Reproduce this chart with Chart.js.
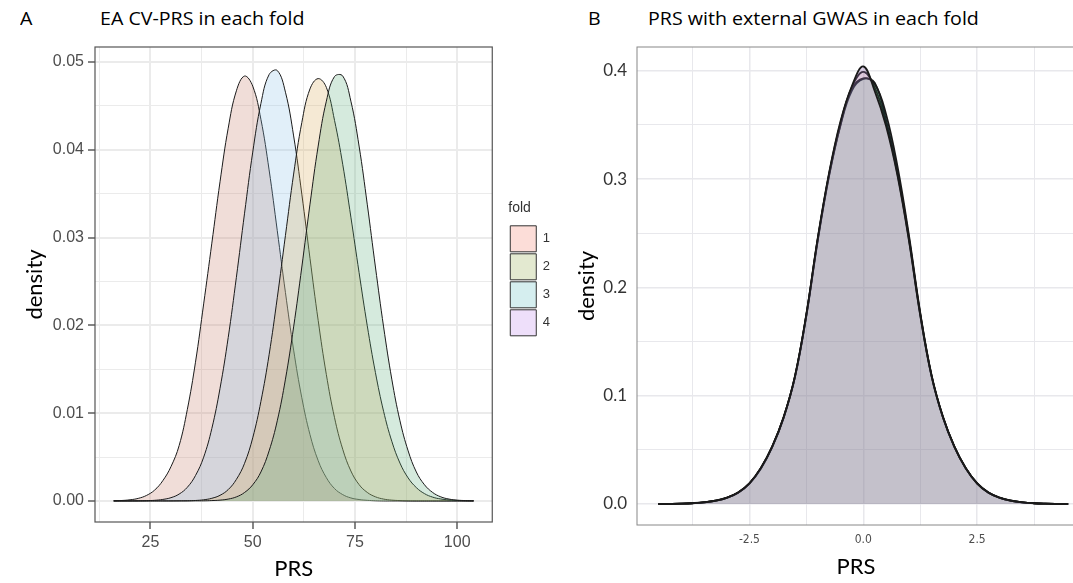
<!DOCTYPE html>
<html>
<head>
<meta charset="utf-8">
<script src="https://cdn.jsdelivr.net/npm/chart.js@4.4.0/dist/chart.umd.min.js"></script>
<style>
  html, body { margin: 0; padding: 0; background: #fff; overflow: hidden; }
  body { width: 1073px; height: 583px; position: relative; }
  canvas { position: absolute; top: 0; }
  #graficaA { left: 0; }
  #graficaB { left: 565px; }
  .tag { position: absolute; top: 5px; font-family: 'Open Sans', sans-serif; font-size: 18px; color: #000;
         line-height: 26px; white-space: nowrap; transform: scaleX(1.09); transform-origin: left center; }
</style>
</head>
<body>
<div class="tag" style="left:20px">A</div>
<div class="tag" style="left:100px">EA CV-PRS in each fold</div>
<div class="tag" style="left:588px">B</div>
<div class="tag" style="left:648px">PRS with external GWAS in each fold</div>
<canvas id="graficaA" width="590" height="583"></canvas>
<canvas id="graficaB" width="510" height="583"></canvas>
<script>
// ======================
// DATOS
// ======================
const foldNames = ['1', '2', '3', '4'];

// panel A: densidad del CV-PRS por fold
const prsGridA = [16, 18, 20, 22, 24, 26, 28, 30, 32, 34, 36, 38, 40, 42, 44, 46, 48, 50, 52, 54, 56, 58, 60,
                  62, 64, 66, 68, 70, 72, 74, 76, 78, 80, 82, 84, 86, 88, 90, 92, 94, 96, 98, 100, 102, 104];
const fold1A = [0.00002, 0.00005, 0.00013, 0.00029, 0.00062, 0.00123, 0.00230, 0.00390, 0.00630, 0.01040,
                0.01580, 0.02244, 0.02936, 0.03635, 0.04245, 0.04671, 0.04839, 0.04724, 0.04346, 0.03770,
                0.03078, 0.02372, 0.01718, 0.01175, 0.00755, 0.00459, 0.00265, 0.00141, 0.00072, 0.00034,
                0.00016, 0.00007, 0.00002, 0, 0, 0, 0, 0, 0, 0, 0, 0, 0, 0, 0];
const fold2A = [0, 0, 0, 0.00001, 0.00003, 0.00007, 0.00017, 0.00037, 0.00078, 0.00155, 0.00289, 0.00498,
                0.00825, 0.01282, 0.01860, 0.02547, 0.03277, 0.03973, 0.04527, 0.04856, 0.04902, 0.04655,
                0.04157, 0.03494, 0.02763, 0.02056, 0.01439, 0.00948, 0.00589, 0.00341, 0.00186, 0.00097,
                0.00047, 0.00021, 0.00009, 0.00004, 0.00001, 0, 0, 0, 0, 0, 0, 0, 0];
const fold3A = [0, 0, 0, 0, 0, 0, 0, 0, 0.00001, 0.00002, 0.00005, 0.00013, 0.00030, 0.00064, 0.00129,
                0.00245, 0.00428, 0.00719, 0.01134, 0.01665, 0.02314, 0.03025, 0.03723, 0.04310, 0.04693,
                0.04810, 0.04710, 0.04334, 0.03834, 0.03232, 0.02602, 0.01996, 0.01462, 0.01020, 0.00680,
                0.00431, 0.00262, 0.00152, 0.00083, 0.00043, 0.00022, 0.00011, 0.00005, 0.00002, 0.00001];
const fold4A = [0, 0, 0, 0, 0, 0, 0, 0, 0, 0, 0.00001, 0.00001, 0.00004, 0.00009, 0.00021, 0.00046, 0.00096,
                0.00184, 0.00330, 0.00570, 0.00913, 0.01387, 0.01982, 0.02664, 0.03380, 0.04042, 0.04553,
                0.04834, 0.04840, 0.04553, 0.04042, 0.03380, 0.02664, 0.01982, 0.01387, 0.00913, 0.00570,
                0.00330, 0.00184, 0.00096, 0.00046, 0.00021, 0.00009, 0.00004, 0.00001];
const xTicksA = [25, 50, 75, 100];
const yTicksA = [0, 0.01, 0.02, 0.03, 0.04, 0.05];

// panel B: PRS con GWAS externo
const prsGridB = [-4.5, -4.25, -4, -3.75, -3.5, -3.25, -3, -2.75, -2.5, -2.25, -2, -1.75, -1.5, -1.25, -1,
                  -0.75, -0.5, -0.25, 0, 0.25, 0.5, 0.75, 1, 1.25, 1.5, 1.75, 2, 2.25, 2.5, 2.75, 3, 3.25,
                  3.5, 3.75, 4, 4.25, 4.5];
const fold1B = [0, 0.0001, 0.0003, 0.0007, 0.0015, 0.0030, 0.0057, 0.0105, 0.0190, 0.0330, 0.0530, 0.0800,
                0.1180, 0.1750, 0.2450, 0.3050, 0.3520, 0.3850, 0.3990, 0.3850, 0.3520, 0.3050, 0.2450,
                0.1750, 0.1180, 0.0800, 0.0530, 0.0330, 0.0190, 0.0105, 0.0057, 0.0030, 0.0015, 0.0007,
                0.0003, 0.0001, 0];
const fold2B = [0, 0.0001, 0.0003, 0.0008, 0.0016, 0.0031, 0.0058, 0.0104, 0.0188, 0.0325, 0.0524, 0.0795,
                0.1172, 0.1738, 0.2433, 0.3032, 0.3498, 0.3818, 0.3925, 0.3890, 0.3545, 0.3070, 0.2465,
                0.1760, 0.1185, 0.0802, 0.0532, 0.0333, 0.0192, 0.0106, 0.0058, 0.0030, 0.0015, 0.0007,
                0.0003, 0.0001, 0];
const fold3B = [0, 0.0001, 0.0003, 0.0007, 0.0014, 0.0029, 0.0056, 0.0104, 0.0191, 0.0332, 0.0532, 0.0800,
                0.1176, 0.1745, 0.2440, 0.3040, 0.3505, 0.3835, 0.3930, 0.3880, 0.3600, 0.3120, 0.2490,
                0.1770, 0.1190, 0.0805, 0.0530, 0.0330, 0.0190, 0.0104, 0.0057, 0.0030, 0.0015, 0.0007,
                0.0003, 0.0001, 0];
const fold4B = [0, 0.0001, 0.0003, 0.0007, 0.0015, 0.0030, 0.0057, 0.0106, 0.0191, 0.0331, 0.0529, 0.0798,
                0.1180, 0.1752, 0.2455, 0.3060, 0.3535, 0.3860, 0.4040, 0.3815, 0.3490, 0.3035, 0.2440,
                0.1745, 0.1178, 0.0798, 0.0528, 0.0329, 0.0189, 0.0104, 0.0056, 0.0029, 0.0015, 0.0007,
                0.0003, 0.0001, 0];
const xTicksB = [-2.5, 0, 2.5];
const yTicksB = [0, 0.1, 0.2, 0.3, 0.4];

// colores
const fillsA = ['rgba(195,119,99,0.25)', 'rgba(135,190,230,0.25)', 'rgba(215,167,83,0.25)', 'rgba(87,171,119,0.25)'];
const fillsB = ['rgba(248,118,109,0.1)', 'rgba(124,174,0,0.1)', 'rgba(0,191,196,0.1)', 'rgba(150,110,180,0.3)'];
const legendFills = ['#FCDDD8', '#E3E9D0', '#D5EEEF', '#EEDFFA'];

const isTick = (list, v) => list.some(t => Math.abs(t - v) < 1e-9);

function areaSet(i, xs, ys, fill, width) {
    return {
        label: foldNames[i],
        data: xs.map((x, k) => ({ x: x, y: ys[k] })),
        backgroundColor: fill,
        borderColor: '#1a1a1a',
        borderWidth: width,
        fill: 'origin',
        pointRadius: 0,
        tension: 0.4,
        order: 3 - i   // fold 4 queda arriba
    };
}

// borde del panel (theme_bw)
const panelBorder = {
    id: 'panelBorder',
    afterDatasetsDraw(chart, args, opts) {
        const { ctx, chartArea: a } = chart;
        ctx.save();
        ctx.strokeStyle = opts.color;
        ctx.lineWidth = opts.width;
        ctx.strokeRect(a.left, a.top, a.right - a.left, a.bottom - a.top);
        ctx.restore();
    }
};

function gridOpts(majors, majorW, minorW, color, tickLen, tickColor) {
    return {
        color: color,
        lineWidth: c => (c.tick && isTick(majors, c.tick.value)) ? majorW : minorW,
        drawTicks: tickLen > 0,
        tickLength: tickLen,
        tickWidth: 1.2,
        tickColor: c => (c.tick && isTick(majors, c.tick.value)) ? tickColor : 'rgba(0,0,0,0)'
    };
}

const titleFont = { family: 'Lato, sans-serif', size: 22 };
const sansA = "'Liberation Sans', Arial, sans-serif";

// ======================
// PANEL A
// ======================
new Chart(document.getElementById('graficaA'), {
    type: 'line',
    data: {
        datasets: [
            areaSet(0, prsGridA, fold1A, fillsA[0], 1),
            areaSet(1, prsGridA, fold2A, fillsA[1], 1),
            areaSet(2, prsGridA, fold3A, fillsA[2], 1),
            areaSet(3, prsGridA, fold4A, fillsA[3], 1)
        ]
    },
    plugins: [panelBorder],
    options: {
        responsive: false,
        animation: false,
        layout: { padding: { top: 47, right: 30, bottom: 0, left: 0 } },
        plugins: {
            panelBorder: { color: '#555', width: 1.2 },
            tooltip: { enabled: false },
            legend: {
                position: 'right',
                align: 'start',
                title: {
                    display: true, text: 'fold', color: '#333', position: 'start',
                    font: { family: sansA, size: 14 },
                    padding: { top: 154, bottom: 6 }
                },
                labels: {
                    boxWidth: 26, boxHeight: 26, padding: 2, color: '#333',
                    font: { family: sansA, size: 13 },
                    generateLabels: () => foldNames.map((t, i) => ({
                        text: t, fillStyle: legendFills[i], strokeStyle: '#333',
                        lineWidth: 1, hidden: false, datasetIndex: i
                    }))
                }
            }
        },
        scales: {
            x: {
                type: 'linear', min: 11.43, max: 108.57,
                afterFit: s => { s.height = 61; },
                ticks: {
                    stepSize: 12.5, includeBounds: false, autoSkip: false, maxRotation: 0, padding: 4,
                    color: '#4D4D4D', font: { family: sansA, size: 16 },
                    callback: v => isTick(xTicksA, v) ? String(v) : ''
                },
                grid: gridOpts(xTicksA, 2, 1, '#EBEBEB', 7, '#333'),
                border: { display: false },
                title: { display: true, text: 'PRS', color: '#000', font: titleFont, padding: { top: 0, bottom: 1 } }
            },
            y: {
                type: 'linear', min: -0.0024, max: 0.0517,
                afterFit: s => { s.width = 95; },
                ticks: {
                    stepSize: 0.005, includeBounds: false, autoSkip: false, padding: 4,
                    color: '#4D4D4D', font: { family: sansA, size: 16 },
                    callback: v => isTick(yTicksA, v) ? v.toFixed(2) : ''
                },
                grid: gridOpts(yTicksA, 2, 1, '#EBEBEB', 7, '#333'),
                border: { display: false },
                title: { display: true, text: 'density', color: '#000', font: titleFont, padding: { top: 22, bottom: 0 } }
            },
            yR: {
                position: 'right', display: true,
                afterFit: s => { s.width = 16; },
                ticks: { display: false },
                grid: { display: false, drawTicks: false },
                border: { display: false }
            }
        }
    }
});

// ======================
// PANEL B
// ======================
new Chart(document.getElementById('graficaB'), {
    type: 'line',
    data: {
        datasets: [
            areaSet(0, prsGridB, fold1B, fillsB[0], 1.8),
            areaSet(1, prsGridB, fold2B, fillsB[1], 1.8),
            areaSet(2, prsGridB, fold3B, fillsB[2], 1.8),
            areaSet(3, prsGridB, fold4B, fillsB[3], 1.8)
        ]
    },
    plugins: [panelBorder],
    options: {
        responsive: false,
        animation: false,
        layout: { padding: { top: 47, right: 0, bottom: 0, left: 0 } },
        plugins: {
            panelBorder: { color: '#888', width: 1 },
            tooltip: { enabled: false },
            legend: { display: false }
        },
        scales: {
            x: {
                type: 'linear', min: -4.97, max: 4.65,
                afterFit: s => { s.height = 58; },
                ticks: {
                    stepSize: 1.25, includeBounds: false, autoSkip: false, maxRotation: 0, padding: 8,
                    color: '#4D4D4D', font: { family: "'Liberation Sans Narrow', 'DejaVu Sans Condensed', sans-serif", size: 12 },
                    callback: v => isTick(xTicksB, v) ? v.toFixed(1) : ''
                },
                grid: gridOpts(xTicksB, 1.5, 1, '#E8E8EC', 0, '#333'),
                border: { display: false },
                title: { display: true, text: 'PRS', color: '#000', font: titleFont, padding: { top: 0, bottom: 3 } }
            },
            y: {
                type: 'linear', min: -0.0194, max: 0.422,
                afterFit: s => { s.width = 72; },
                ticks: {
                    stepSize: 0.05, includeBounds: false, autoSkip: false, padding: 10,
                    color: '#333', font: { family: 'Lato, sans-serif', size: 17 },
                    callback: v => isTick(yTicksB, v) ? v.toFixed(1) : ''
                },
                grid: gridOpts(yTicksB, 1.5, 1, '#E8E8EC', 0, '#333'),
                border: { display: false },
                title: { display: true, text: 'density', color: '#000', font: titleFont, padding: { top: 9, bottom: 0 } }
            }
        }
    }
});
</script>
</body>
</html>
